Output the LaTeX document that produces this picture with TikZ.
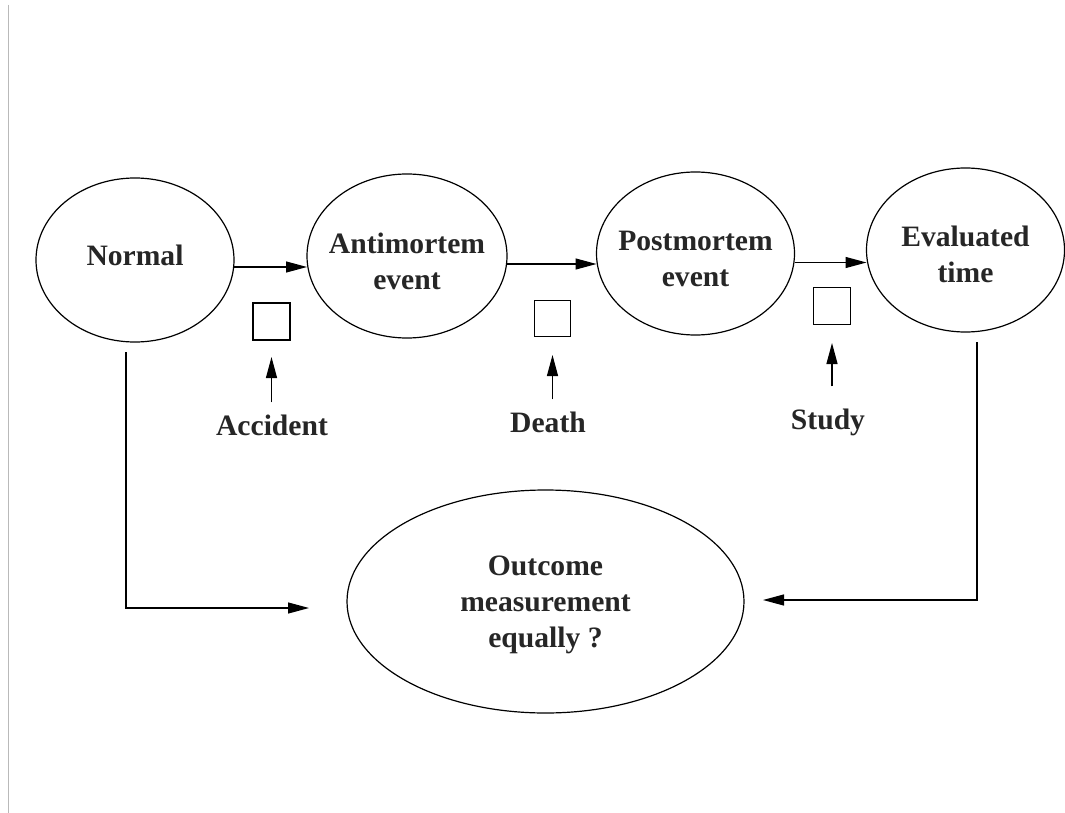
\documentclass[tikz,border=0pt]{standalone}
\usepackage{fontspec}
\setmainfont{Liberation Serif}
\usetikzlibrary{arrows.meta,shapes.geometric}
\begin{document}
\begin{tikzpicture}[x=1pt,y=-1pt,
  ell/.style={draw, ellipse, line width=1.2pt, inner sep=0pt, outer sep=0pt},
  txt/.style={font=\fontsize{29.6pt}{36pt}\selectfont\bfseries, align=center, inner sep=0pt, text=black!85},
  sq/.style={draw, rectangle, line width=1.1pt, minimum size=37pt, inner sep=0pt, outer sep=0pt},
  arr/.style={line width=1.2pt, -{Triangle[length=21pt,width=11pt]}},
]
\useasboundingbox (0,0) rectangle (1065,813);
\fill[white] (0,0) rectangle (1065,813);
\draw[gray!55, line width=0.8pt] (8,5) -- (8,813);

\node[ell, minimum width=198pt, minimum height=164pt, label={[txt,yshift=5pt]center:Normal}] (N) at (135,260) {};
\node[ell, minimum width=200pt, minimum height=164pt, label={[txt,yshift=-5pt]center:{Antimortem\\event}}] (A) at (407,256) {};
\node[ell, minimum width=198pt, minimum height=163pt, label={[txt,yshift=-5pt]center:{Postmortem\\event}}] (P) at (695.5,253.5) {};
\node[ell, minimum width=198pt, minimum height=164pt, label={[txt,yshift=-4.5pt]center:{Evaluated\\time}}] (E) at (965.5,250) {};
\node[ell, minimum width=397pt, minimum height=223pt, label={[txt,yshift=-3pt]center:{Outcome\\measurement\\equally ?}}] (O) at (545.5,601.5) {};

\node[sq] (s1) at (271.5,321.5) {};
\node[sq, minimum size=36pt] (s2) at (552.5,318.5) {};
\node[sq] (s3) at (832,306) {};

\node[txt, anchor=base] (l1) at (272,435) {Accident};
\node[txt, anchor=base] (l2) at (548,432) {Death};
\node[txt, anchor=base] (l3) at (828,429) {Study};

\draw[arr, shorten <=12pt, shorten >=17pt] (s1.south |- l1.north) -- (s1.south);
\draw[arr, shorten <=12pt, shorten >=18.5pt] (s2.south |- l2.north) -- (s2.south);
\draw[arr, shorten <=22pt, shorten >=18.5pt] (s3.south |- l3.north) -- (s3.south);

\draw[arr] ([yshift=-7pt]N.east) -- ([yshift=-7pt]N.east -| A.west);
\draw[arr] ([yshift=-8pt]A.east) -- ([yshift=-8pt]A.east -| P.west);
\draw[arr] ([yshift=-9pt]P.east) -- ([yshift=-9pt]P.east -| E.west);

\draw[arr, shorten <=10pt, shorten >=38pt] ([xshift=-9pt]N.south) |- ([yshift=-6.5pt]O.west);
\draw[arr, shorten <=10pt, shorten >=19pt] ([xshift=11.5pt]E.south) |- ([yshift=1.5pt]O.east);
\end{tikzpicture}
\end{document}
